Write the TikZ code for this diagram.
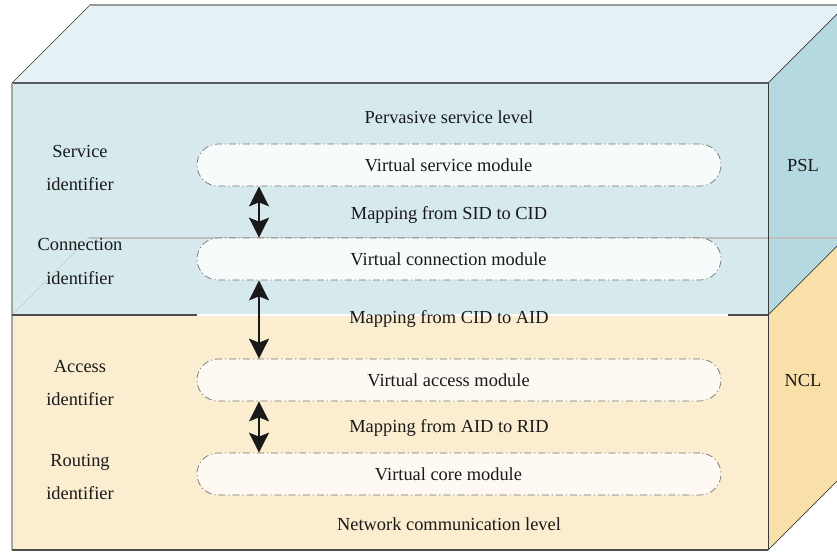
\documentclass[tikz,border=0pt]{standalone}
\usepackage{fontspec}
\setmainfont{Liberation Serif}
\usetikzlibrary{arrows.meta,positioning,calc}

\definecolor{pslTop}{HTML}{E5F1F4}
\definecolor{pslFront}{HTML}{D6E9ED}
\definecolor{pslSide}{HTML}{B5D9E1}
\definecolor{nclFront}{HTML}{FBEDD0}
\definecolor{nclSide}{HTML}{F8E0A8}
\definecolor{edgeGray}{HTML}{3A3A3A}

\tikzset{
  modbox/.style={draw=black!55, line width=0.6pt,
    dash pattern=on 6pt off 2.5pt on 1pt off 2.5pt,
    rounded corners=0.63cm, minimum width=15.72cm, minimum height=1.26cm,
    inner sep=0pt},
  maparrow/.style={line width=1.3pt, black!90,
    {Stealth[length=6mm,width=6mm,inset=1.2mm]}-{Stealth[length=6mm,width=6mm,inset=1.2mm]}},
  idtext/.style={align=center, font=\fontsize{15.7}{29}\selectfont},
  lvltext/.style={text=black!90},
}

\begin{document}
\begin{tikzpicture}[x=0.03cm, y=-0.03cm, font=\fontsize{15.7}{19}\selectfont]
  \useasboundingbox (0,0) rectangle (837,552);
  \begin{scope}
    \clip (0,0) rectangle (837,552);
    % faces of the two stacked blocks
    \fill[pslTop] (12,83) -- (89,6) -- (845,6) -- (768,83) -- cycle;
    \fill[pslSide] (768,83) -- (845,6) -- (845,238) -- (768,315) -- cycle;
    \fill[nclSide] (768,315) -- (845,238) -- (845,473) -- (768,550) -- cycle;
    \fill[pslFront] (12,83) rectangle (768,315);
    \fill[nclFront] (12,315) rectangle (768,550);
    % top of the lower block, seen through the upper one
    \draw[black!22, line width=0.5pt] (12,315) -- (89,238);
    \draw[black!25, line width=1pt] (89,238) -- (845,238);
    % edges
    \draw[black!40, line width=1.3pt] (89,5) -- (845,5);
    \draw[edgeGray, line width=0.5pt] (12,83) -- (89,6);
    \draw[edgeGray, line width=0.6pt] (768,83) -- (845,6);
    \draw[black!65, line width=1pt] (12,83) -- (768,83);
    \draw[black!35, line width=1pt] (12,83) -- (12,550);
    \draw[edgeGray, line width=0.8pt] (768,83) -- (768,550);
    \draw[black!70, line width=1pt] (12,550) -- (768,550);
    \draw[edgeGray, line width=0.6pt] (768,550) -- (845,473);
    \draw[edgeGray, line width=0.6pt] (768,315) -- (845,238);
    % split between the two levels
    \draw[black!70, line width=1pt] (12,315) -- (768,315);
    \draw[white, line width=1.6pt] (197,315) -- (728,315);
  \end{scope}

  % virtual modules
  \node[modbox, fill=white!80!pslFront] (vsm) at (459,165) {};
  \node[modbox, fill=white!80!pslFront] (vcm) at (459,259) {};
  \node[modbox, fill=white!75!nclFront] (vam) at (459,380) {};
  \node[modbox, fill=white!75!nclFront] (vrm) at (459,474) {};
  \node[lvltext] (vsm-t) at (448.5,165) {Virtual service module};
  \node[lvltext] (vcm-t) at (448.5,259) {Virtual connection module};
  \node[lvltext] (vam-t) at (448.5,380) {Virtual access module};
  \node[lvltext] (vrm-t) at (448.5,474) {Virtual core module};

  % level names and mappings
  \node[lvltext] (psl-t) at (449,117) {Pervasive service level};
  \node[lvltext] (map1) at (449,215) {Mapping from SID to CID};
  \node[lvltext] (map2) at (449,319) {Mapping from CID to AID};
  \node[lvltext] (map3) at (449,428) {Mapping from AID to RID};
  \node[lvltext] (ncl-t) at (449,524) {Network communication level};

  % identifiers
  \node[idtext, lvltext] (sid) at (80,168) {Service\\identifier};
  \node[idtext, lvltext] (cid) at (80,261.5) {Connection\\identifier};
  \node[idtext, lvltext] (aid) at (80,383) {Access\\identifier};
  \node[idtext, lvltext] (rid) at (80,477) {Routing\\identifier};

  % side labels
  \node[lvltext] (psl) at (803,165) {PSL};
  \node[lvltext] (ncl) at (803,380) {NCL};

  % mapping arrows
  \coordinate (ax) at (259,0);
  \draw[maparrow] (vsm.south -| ax) -- (vcm.north -| ax);
  \draw[maparrow] (vcm.south -| ax) -- (vam.north -| ax);
  \draw[maparrow] (vam.south -| ax) -- (vrm.north -| ax);
\end{tikzpicture}
\end{document}
